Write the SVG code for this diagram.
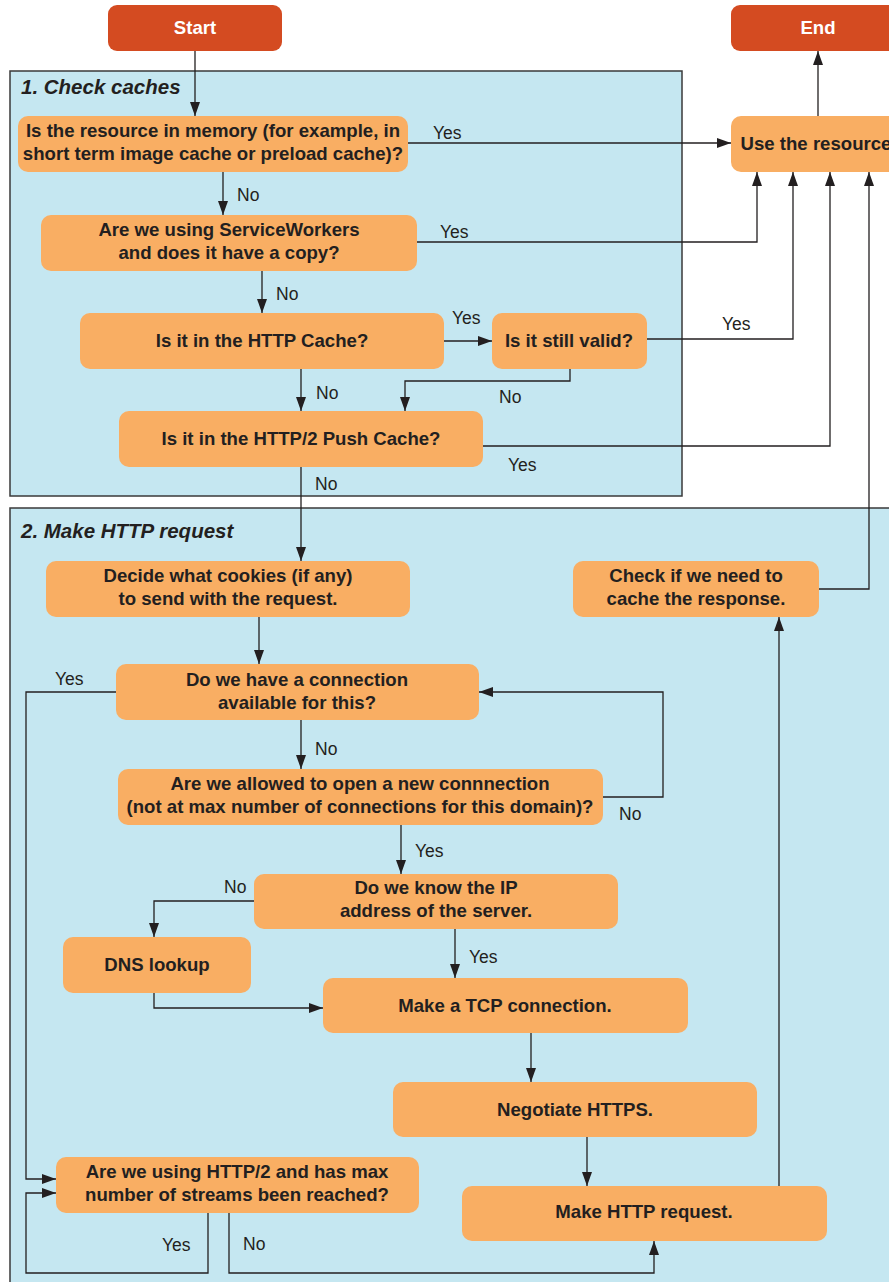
<svg xmlns="http://www.w3.org/2000/svg" width="889" height="1282" viewBox="0 0 889 1282">
<style>
.sec{fill:#C5E7F1;stroke:#3a3a3a;stroke-width:1.5}
.nd{fill:#F9AE63}
.term{fill:#D44B21}
.t{font-family:"Liberation Sans",Arial,sans-serif;font-weight:bold;font-size:18.6px;fill:#231F20;text-anchor:middle}
.tw{font-family:"Liberation Sans",Arial,sans-serif;font-weight:bold;font-size:18.6px;fill:#ffffff;text-anchor:middle}
.ttl{font-family:"Liberation Sans",Arial,sans-serif;font-weight:bold;font-style:italic;font-size:20.5px;fill:#231F20}
.lb{font-family:"Liberation Sans",Arial,sans-serif;font-size:17.5px;fill:#231F20}
.c{fill:none;stroke:#231F20;stroke-width:1.3}
</style>
<defs>
<marker id="ah" markerUnits="userSpaceOnUse" markerWidth="14" markerHeight="10" refX="14" refY="5" orient="auto">
<path d="M0,0 L14,5 L0,10 z" fill="#231F20"/>
</marker>
</defs>
<rect width="889" height="1282" fill="#ffffff"/>
<g id="section1">
<rect class="sec" x="10" y="71" width="672" height="425"/>
<text class="ttl" x="21" y="94">1. Check caches</text>
</g>
<g id="section2">
<rect class="sec" x="10" y="508" width="900" height="790"/>
<text class="ttl" x="21" y="538">2. Make HTTP request</text>
</g>
<g id="start"><rect class="term" x="108" y="5" width="174" height="46" rx="9"/><text class="tw" x="195" y="34">Start</text></g>
<g id="end"><rect class="term" x="731" y="5" width="180" height="46" rx="9"/><text class="tw" x="818" y="34">End</text></g>
<g id="use"><rect class="nd" x="731" y="116" width="180" height="56" rx="10"/><text class="t" x="816" y="150">Use the resource</text></g>
<g id="n1"><rect class="nd" x="18" y="116" width="390" height="56" rx="10"/><text class="t" x="213" y="137">Is the resource in memory (for example, in</text><text class="t" x="213" y="160">short term image cache or preload cache)?</text></g>
<g id="n2"><rect class="nd" x="41" y="215" width="376" height="56" rx="10"/><text class="t" x="229" y="236">Are we using ServiceWorkers</text><text class="t" x="229" y="259">and does it have a copy?</text></g>
<g id="n3"><rect class="nd" x="80" y="313" width="364" height="56" rx="10"/><text class="t" x="262" y="347">Is it in the HTTP Cache?</text></g>
<g id="n4"><rect class="nd" x="492" y="313" width="155" height="56" rx="10"/><text class="t" x="569" y="347">Is it still valid?</text></g>
<g id="n5"><rect class="nd" x="119" y="411" width="364" height="56" rx="10"/><text class="t" x="301" y="445">Is it in the HTTP/2 Push Cache?</text></g>
<g id="n6"><rect class="nd" x="46" y="561" width="364" height="56" rx="10"/><text class="t" x="228" y="582">Decide what cookies (if any)</text><text class="t" x="228" y="605">to send with the request.</text></g>
<g id="n7"><rect class="nd" x="573" y="561" width="246" height="56" rx="10"/><text class="t" x="696" y="582">Check if we need to</text><text class="t" x="696" y="605">cache the response.</text></g>
<g id="n8"><rect class="nd" x="116" y="664" width="363" height="56" rx="10"/><text class="t" x="297" y="686">Do we have a connection</text><text class="t" x="297" y="709">available for this?</text></g>
<g id="n9"><rect class="nd" x="118" y="769" width="485" height="56" rx="10"/><text class="t" x="360" y="790">Are we allowed to open a new connnection</text><text class="t" x="360" y="813">(not at max number of connections for this domain)?</text></g>
<g id="n10"><rect class="nd" x="254" y="874" width="364" height="55" rx="10"/><text class="t" x="436" y="894">Do we know the IP</text><text class="t" x="436" y="917">address of the server.</text></g>
<g id="n11"><rect class="nd" x="63" y="937" width="188" height="56" rx="10"/><text class="t" x="157" y="971">DNS lookup</text></g>
<g id="n12"><rect class="nd" x="323" y="978" width="365" height="55" rx="10"/><text class="t" x="505" y="1012">Make a TCP connection.</text></g>
<g id="n13"><rect class="nd" x="393" y="1082" width="364" height="55" rx="10"/><text class="t" x="575" y="1116">Negotiate HTTPS.</text></g>
<g id="n14"><rect class="nd" x="56" y="1157" width="363" height="56" rx="10"/><text class="t" x="237" y="1178">Are we using HTTP/2 and has max</text><text class="t" x="237" y="1201">number of streams been reached?</text></g>
<g id="n15"><rect class="nd" x="462" y="1186" width="365" height="55" rx="10"/><text class="t" x="644" y="1218">Make HTTP request.</text></g>
<g id="connectors">
<path class="c" d="M195,51 V116" marker-end="url(#ah)"/>
<path class="c" d="M818,116 V51" marker-end="url(#ah)"/>
<path class="c" d="M408,143 H731" marker-end="url(#ah)"/>
<path class="c" d="M223,172 V215" marker-end="url(#ah)"/>
<path class="c" d="M417,242 H757 V172" marker-end="url(#ah)"/>
<path class="c" d="M262,271 V313" marker-end="url(#ah)"/>
<path class="c" d="M444,341 H492" marker-end="url(#ah)"/>
<path class="c" d="M647,339 H793 V172" marker-end="url(#ah)"/>
<path class="c" d="M570,369 V381 H405 V411" marker-end="url(#ah)"/>
<path class="c" d="M301,369 V411" marker-end="url(#ah)"/>
<path class="c" d="M483,446 H830 V172" marker-end="url(#ah)"/>
<path class="c" d="M301,467 V561" marker-end="url(#ah)"/>
<path class="c" d="M819,589 H869 V172" marker-end="url(#ah)"/>
<path class="c" d="M259,617 V664" marker-end="url(#ah)"/>
<path class="c" d="M116,692 H26 V1179 H56" marker-end="url(#ah)"/>
<path class="c" d="M301,720 V769" marker-end="url(#ah)"/>
<path class="c" d="M603,797 H663 V692 H479" marker-end="url(#ah)"/>
<path class="c" d="M401,825 V874" marker-end="url(#ah)"/>
<path class="c" d="M254,901 H154 V937" marker-end="url(#ah)"/>
<path class="c" d="M154,993 V1008 H323" marker-end="url(#ah)"/>
<path class="c" d="M455,929 V978" marker-end="url(#ah)"/>
<path class="c" d="M531,1033 V1082" marker-end="url(#ah)"/>
<path class="c" d="M587,1137 V1186" marker-end="url(#ah)"/>
<path class="c" d="M208,1213 V1273 H26 V1193 H56" marker-end="url(#ah)"/>
<path class="c" d="M229,1213 V1273 H654 V1241" marker-end="url(#ah)"/>
<path class="c" d="M779,1186 V617" marker-end="url(#ah)"/>
</g>
<g id="labels">
<text class="lb" x="433" y="139">Yes</text>
<text class="lb" x="237" y="201">No</text>
<text class="lb" x="440" y="238">Yes</text>
<text class="lb" x="276" y="300">No</text>
<text class="lb" x="452" y="324">Yes</text>
<text class="lb" x="722" y="330">Yes</text>
<text class="lb" x="316" y="399">No</text>
<text class="lb" x="499" y="403">No</text>
<text class="lb" x="508" y="471">Yes</text>
<text class="lb" x="315" y="490">No</text>
<text class="lb" x="55" y="685">Yes</text>
<text class="lb" x="315" y="755">No</text>
<text class="lb" x="619" y="820">No</text>
<text class="lb" x="415" y="857">Yes</text>
<text class="lb" x="224" y="893">No</text>
<text class="lb" x="469" y="963">Yes</text>
<text class="lb" x="162" y="1251">Yes</text>
<text class="lb" x="243" y="1250">No</text>
</g>
</svg>
